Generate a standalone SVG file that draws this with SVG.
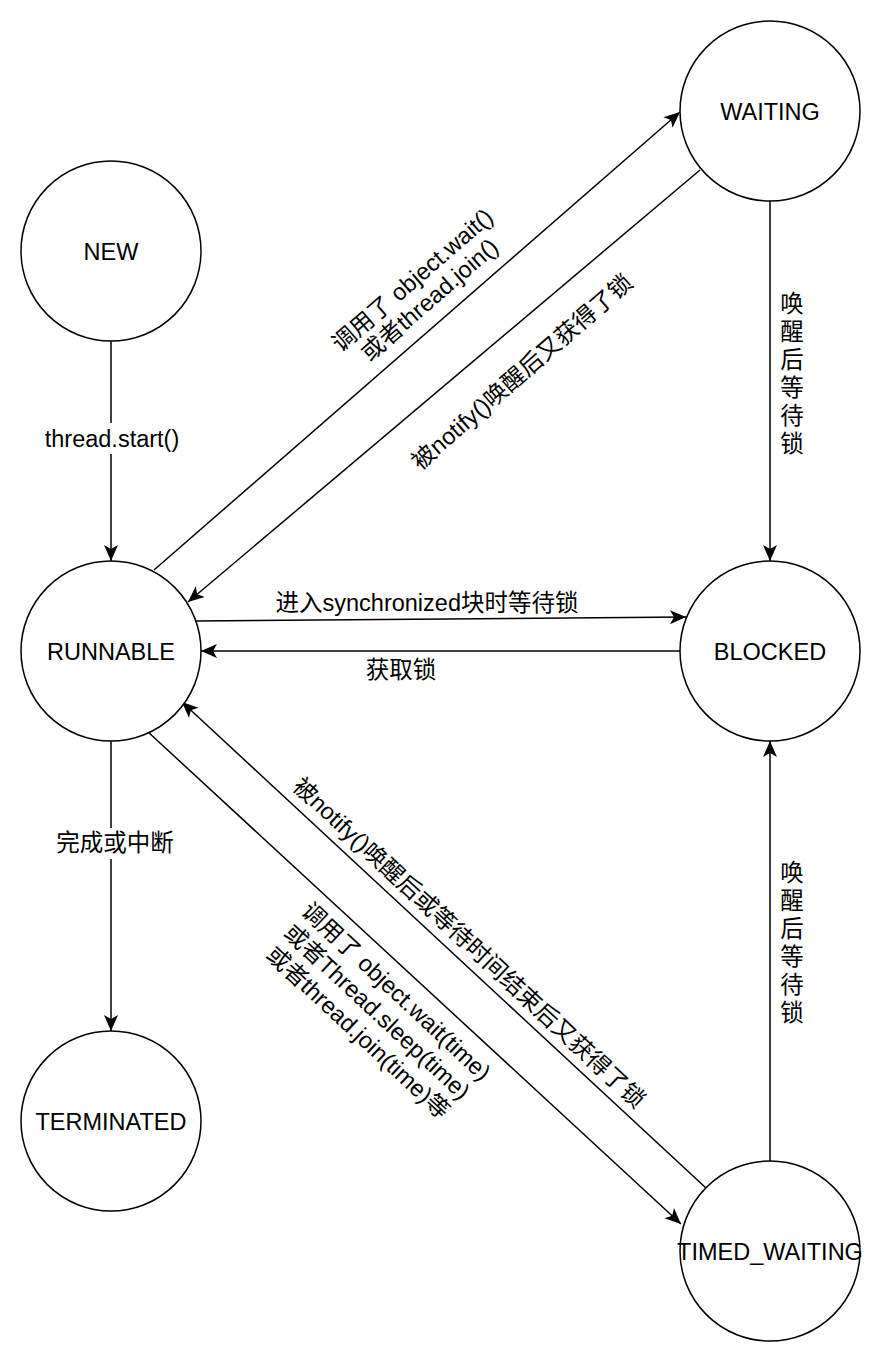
<svg xmlns="http://www.w3.org/2000/svg" width="886" height="1362" viewBox="0 0 886 1362">
<style>
.node{fill:#fff;stroke:#000;stroke-width:1.5}
.lbl{font-family:"Liberation Sans","Noto Sans CJK SC",sans-serif;font-size:23.5px;fill:#000}
.c{text-anchor:middle}
.edge{fill:none;stroke:#000;stroke-width:1.5}
.bg{fill:#fff}
</style>
<defs>
<marker id="arr" viewBox="-17 -8 18 16" refX="0" refY="0" markerWidth="18" markerHeight="16" markerUnits="userSpaceOnUse" orient="auto">
<path d="M0,0 L-16,-7 L-12,0 L-16,7 Z" fill="#000"/>
</marker>
</defs>
<rect width="886" height="1362" fill="#fff"/>
<g id="connectors">
<line class="edge" x1="111" y1="341" x2="111" y2="561" marker-end="url(#arr)"/>
<line class="edge" x1="154" y1="570" x2="680" y2="112" marker-end="url(#arr)"/>
<line class="edge" x1="700" y1="170" x2="188" y2="602" marker-end="url(#arr)"/>
<line class="edge" x1="770" y1="201" x2="770" y2="561" marker-end="url(#arr)"/>
<line class="edge" x1="196" y1="621" x2="686" y2="617" marker-end="url(#arr)"/>
<line class="edge" x1="680" y1="651" x2="201" y2="651" marker-end="url(#arr)"/>
<line class="edge" x1="111" y1="741" x2="111" y2="1031" marker-end="url(#arr)"/>
<line class="edge" x1="147" y1="731" x2="681" y2="1224" marker-end="url(#arr)"/>
<line class="edge" x1="706" y1="1188" x2="182" y2="702" marker-end="url(#arr)"/>
<line class="edge" x1="770" y1="1161" x2="770" y2="741" marker-end="url(#arr)"/>
<rect class="bg" x="44" y="423" width="137" height="31"/>
<text class="lbl c" x="112" y="447">thread.start()</text>
<rect class="bg" x="55" y="828" width="120" height="31"/>
<text class="lbl c" x="115" y="851">完成或中断</text>
<g transform="translate(421,290) rotate(-41)">
<text class="lbl c" x="0" y="-5">调用了 object.wait()</text>
<text class="lbl c" x="0" y="21">或者thread.join()</text>
</g>
<text class="lbl c" transform="translate(522,372) rotate(-41)" x="0" y="8">被notify()唤醒后又获得了锁</text>
<text class="lbl c" x="792">
<tspan x="792" y="312">唤</tspan><tspan x="792" y="340">醒</tspan><tspan x="792" y="368">后</tspan><tspan x="792" y="396">等</tspan><tspan x="792" y="424">待</tspan><tspan x="792" y="452">锁</tspan>
</text>
<text class="lbl c" x="427" y="611">进入synchronized块时等待锁</text>
<text class="lbl c" x="401" y="678">获取锁</text>
<text class="lbl c" transform="translate(469,943) rotate(43)" x="0" y="8">被notify()唤醒后或等待时间结束后又获得了锁</text>
<g transform="translate(377,1012) rotate(43)">
<text class="lbl c" x="0" y="-20">调用了 object.wait(time)</text>
<text class="lbl c" x="0" y="8">或者Thread.sleep(time)</text>
<text class="lbl c" x="0" y="36">或者thread.join(time)等</text>
</g>
<text class="lbl c" x="792">
<tspan x="792" y="881">唤</tspan><tspan x="792" y="909">醒</tspan><tspan x="792" y="937">后</tspan><tspan x="792" y="965">等</tspan><tspan x="792" y="993">待</tspan><tspan x="792" y="1021">锁</tspan>
</text>
</g>
<g id="node-new"><circle class="node" cx="111" cy="251" r="90"/><text class="lbl c" x="111" y="259.5">NEW</text></g>
<g id="node-waiting"><circle class="node" cx="770" cy="111" r="90"/><text class="lbl c" x="770" y="119.5">WAITING</text></g>
<g id="node-runnable"><circle class="node" cx="111" cy="651" r="90"/><text class="lbl c" x="111" y="659.5">RUNNABLE</text></g>
<g id="node-blocked"><circle class="node" cx="770" cy="651" r="90"/><text class="lbl c" x="770" y="659.5">BLOCKED</text></g>
<g id="node-terminated"><circle class="node" cx="111" cy="1121" r="90"/><text class="lbl c" x="111" y="1129.5">TERMINATED</text></g>
<g id="node-timed-waiting"><circle class="node" cx="770" cy="1251" r="90"/><text class="lbl c" x="770" y="1259.5">TIMED_WAITING</text></g>
</svg>
